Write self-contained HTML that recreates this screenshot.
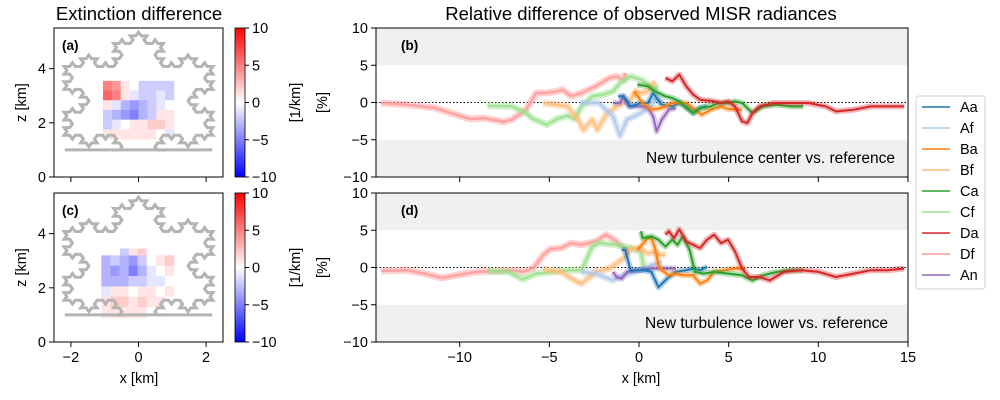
<!DOCTYPE html>
<html><head><meta charset="utf-8"><style>
body{margin:0;background:#fff}
svg{display:block;font-family:"Liberation Sans",sans-serif}
</style></head><body>
<svg id="fig" width="1000" height="400" viewBox="0 0 1000 400"></svg>
<script>
// ---------- data ----------
const seriesNames=["Aa","Af","Ba","Bf","Ca","Cf","Da","Df","An"];
const seriesColors=["#1f77b4","#aec7e8","#ff7f0e","#ffbb78","#2ca02c","#98df8a","#d62728","#ff9896","#9467bd"];
const yTicks=[10,5,0,-5,-10];
const xTicksRight=[-10,-5,0,5,10,15];
const xTicksLeft=[-2,0,2];
const zTicksLeft=[0,2,4];
const cbTicks=[10,5,0,-5,-10];
// panel (b): [km, %] pairs
const bDf=[[-14.38,-0.07],[-12.92,-0.3],[-11.36,-0.74],[-10.39,-1.5],[-9.42,-2.2],[-8.64,-2.1],[-7.57,-2.6],[-7.09,-2.3],[-6.31,-0.96],[-5.73,1.28],[-5.14,1.28],[-4.56,1.5],[-4.27,1.73],[-3.78,0.83],[-3.2,1.28],[-2.42,2.17],[-1.64,3.3],[-1.25,3.5],[-0.86,3.07],[-0.77,3.97]];
const bCf=[[-8.45,-0.43],[-7.09,-0.52],[-6.31,-1.4],[-5.92,-2.2],[-5.14,-2.98],[-4.56,-2.2],[-3.98,-1.77],[-3.59,-2.2],[-3.2,-0.52],[-2.61,0.83],[-2.03,1.05],[-1.45,1.5],[-1.06,2.6],[-0.47,3.5],[0.1,3.07],[0.69,2.17],[1.08,1.95]];
const bBf=[[-5.34,-0.07],[-3.98,-0.52],[-3.39,-2.3],[-3.1,-3.66],[-2.61,-2.3],[-2.32,-3.66],[-1.84,-1.64],[-1.25,-0.52],[-0.47,0.38],[-0.18,1.5],[0.11,1.28],[0.5,1.5],[0.89,2.85]];
const bAf=[[-3.3,-0.07],[-2.23,-0.07],[-1.45,-1.86],[-1.06,-4.46],[-0.67,-2.3],[-0.09,-1.64],[0.69,-0.52],[0.98,0.6],[1.27,-0.07]];
const bAa=[[-1.16,0.83],[-0.87,0.83],[-0.47,-0.52],[0.11,-0.07],[0.5,-0.07],[0.79,1.28],[0.98,0.6],[1.27,-0.3],[1.86,-0.52],[2.25,-0.07],[2.64,-0.52],[3.03,-1.41],[3.41,-0.74],[3.8,-0.52]];
const bAn=[[-1.45,-0.07],[-1.06,-0.07],[-0.87,0.83],[-0.57,-0.52],[0.11,-0.52],[0.5,-0.74],[0.79,-1.86],[0.98,-3.88],[1.27,-2.3],[1.66,-0.96],[2.05,-0.74]];
const bBa=[[-0.28,1.5],[0.2,-0.07],[0.69,-0.96],[1.27,-0.74],[1.86,-0.07],[2.64,-0.07],[3.12,-0.96],[3.51,-1.64],[4.0,-0.96],[4.58,-0.52],[4.97,-0.87],[5.75,-0.96]];
const bCa=[[-0.09,2.4],[0.5,2.17],[0.89,1.5],[1.47,0.83],[1.86,0.6],[2.25,0.16],[2.64,-0.74],[3.03,-1.41],[3.41,-0.74],[4.0,-0.52],[4.39,-0.07],[4.97,-0.07],[5.36,0.16],[5.75,-0.07],[6.33,-1.41],[6.91,-0.52],[7.69,-0.3],[8.47,-0.52],[9.15,-0.52]];
const bDa=[[1.47,3.3],[1.86,2.85],[2.25,3.74],[2.64,2.17],[3.03,1.05],[3.41,0.38],[4.19,0.16],[4.58,-0.07],[4.97,0.16],[5.36,-0.52],[5.75,-2.54],[6.04,-2.76],[6.33,-1.41],[6.72,-0.52],[7.5,-0.07],[8.47,-0.07],[9.44,-0.07],[10.41,-0.52],[10.99,-1.19],[11.97,-0.96],[12.94,-0.52],[13.91,-0.52],[14.79,-0.52]];
// panel (d)
const dDf=[[-14.38,-0.45],[-12.92,-0.36],[-11.95,-0.82],[-10.98,-1.41],[-10.0,-0.95],[-9.03,-0.59],[-8.06,-0.5],[-7.09,-0.36],[-6.5,-0.59],[-5.92,-0.14],[-5.34,1.68],[-4.95,2.5],[-4.36,2.6],[-3.78,3.27],[-3.2,3.05],[-2.42,3.5],[-1.84,4.4],[-1.25,3.5],[-0.87,2.6],[-0.47,2.1]];
const dCf=[[-8.45,-0.45],[-7.28,-0.59],[-6.5,-1.59],[-5.73,-0.82],[-4.75,-0.59],[-3.98,-0.36],[-3.2,-0.36],[-2.61,2.8],[-2.23,3.27],[-1.25,3.05],[-0.47,2.6],[0.11,2.1],[0.26,0.0]];
const dBf=[[-5.34,-0.23],[-4.36,-0.59],[-3.59,-1.73],[-3.2,-2.18],[-2.42,-0.59],[-1.64,-0.14],[-0.87,1.23],[-0.38,2.6],[0.11,2.4],[0.5,1.9],[0.89,2.1],[1.08,1.7],[1.47,1.7]];
const dAf=[[-3.2,-0.59],[-2.42,-0.82],[-1.45,-1.73],[-0.87,-1.05],[-0.28,-0.59],[0.3,-0.14],[0.69,0.32],[1.27,0.77]];
const dAa=[[-0.96,2.36],[-0.77,2.36],[-0.47,-0.36],[0.3,-0.36],[0.69,-0.59],[1.08,-2.64],[1.27,-2.2],[1.56,-1.5],[2.05,-0.59],[2.64,-0.36],[3.03,-0.14],[3.41,-0.36],[3.8,0.09]];
const dAn=[[-1.45,-0.59],[-1.25,-1.27],[-0.96,-1.5],[-0.67,-0.59],[-0.09,-0.36],[0.69,-0.14],[1.66,-0.14],[2.05,-0.14]];
const dBa=[[-0.09,2.36],[0.5,3.95],[0.69,3.95],[0.89,2.6],[1.08,0.32],[1.27,-0.36],[1.66,-1.05],[2.05,-0.82],[2.44,-1.05],[3.03,-1.05],[3.41,-2.18],[3.8,-1.73],[4.19,-0.59],[4.77,-0.36],[5.36,-0.14],[5.94,-0.14]];
const dCa=[[0.11,4.86],[0.2,3.95],[0.69,4.18],[1.08,3.73],[1.47,2.8],[1.86,3.73],[2.15,3.05],[2.44,4.18],[2.83,2.36],[3.12,-0.59],[3.61,-0.82],[4.19,-0.59],[4.97,-0.82],[5.75,-1.05],[6.33,-1.73],[6.91,-1.05],[7.69,-0.59],[8.47,-0.36],[9.15,-0.36]];
const dDa=[[1.47,4.4],[1.66,4.86],[1.95,3.95],[2.25,5.1],[2.64,3.5],[3.03,3.05],[3.41,2.6],[3.8,3.73],[4.19,4.4],[4.58,3.27],[4.97,3.73],[5.36,2.14],[5.75,-0.14],[6.14,-1.27],[6.72,-1.27],[7.3,-1.73],[8.08,-0.59],[9.05,-0.36],[10.02,-0.59],[10.99,-1.27],[11.97,-0.82],[12.94,-0.36],[13.91,-0.36],[14.79,-0.14]];
// heatmaps (rows top->bottom, values in 1/km)
const heatA=[[5,4,1,0,-2,-2,-2,-2],[6,5,1,-1,-2,-2,-1,-2],[1,-1,-3,-4,-3,-2,-1,0],[-2,-3,-4,-5,-3,-2,1,1],[-2,-1,0,1,1,2,2,1],[1,1,1,1,1,1,0,-1]];
const heatC=[[-3,-2,-3,-4,-2,0,1,2],[-3,-4,-3,-5,-3,-1,0,1],[-3,-3,-3,-2,-2,-1,-1,0],[-1,1,1,0,1,1,0,1],[1,2,2,1,2,1,1,0],[1,1,1,1,1,0,0,0]];
const heatCtop=[-2,1,2,0];

// ---------- helpers ----------
const NS="http://www.w3.org/2000/svg";
const svg=document.getElementById('fig');
function el(tag,attrs,parent,text){const e=document.createElementNS(NS,tag);for(const k in attrs)e.setAttribute(k,attrs[k]);if(text!==undefined)e.textContent=text;(parent||svg).appendChild(e);return e;}
function bwr(v){let t=(Math.max(-10,Math.min(10,v))+10)/20;let r,g,b;if(t<0.5){r=g=Math.round(2*t*255);b=255;}else{r=255;g=b=Math.round(2*(1-t)*255);}return `rgb(${r},${g},${b})`;}
const FS=14.5;
function fmt(t){return t<0?'\u2212'+(-t):String(t);}

// ---------- left panels ----------
const LX0=54,LX1=223; const lxs=x=>LX0+(x+2.5)/5*(LX1-LX0);
function kochPts(){
  const c=[0,2.81],R=2.54;
  const ang=[150,30,270].map(a=>a*Math.PI/180);
  let pts=ang.map(a=>[c[0]+R*Math.cos(a),c[1]+R*Math.sin(a)]);
  pts.push(pts[0]);
  for(let l=0;l<3;l++){
    const np=[];
    for(let i=0;i<pts.length-1;i++){
      const p=pts[i],q=pts[i+1];const d=[(q[0]-p[0])/3,(q[1]-p[1])/3];
      const a=[p[0]+d[0],p[1]+d[1]],b=[p[0]+2*d[0],p[1]+2*d[1]];
      const co=Math.cos(Math.PI/3),si=Math.sin(Math.PI/3);
      const m=[a[0]+d[0]*co-d[1]*si,a[1]+d[0]*si+d[1]*co];
      np.push(p,a,m,b);
    }
    np.push(pts[pts.length-1]);pts=np;
  }
  return pts;
}
const koch=kochPts();
function leftPanel(top,label,heat,heatRect,topExt,idx){
  const Y0=top,Y1=top+149; const zs=z=>Y1-z/5.5*(Y1-Y0);
  const g=el('g',{},svg);
  
  
  el('rect',{x:LX0,y:Y0,width:LX1-LX0,height:Y1-Y0,fill:'#fff'},g);
  const [x0,x1,z0,z1]=heatRect; const nr=heat.length,nc=heat[0].length;
  heat.forEach((row,r)=>row.forEach((v,c)=>{
    const xa=x0+(x1-x0)*c/nc, xb=x0+(x1-x0)*(c+1)/nc, za=z1-(z1-z0)*r/nr, zb=z1-(z1-z0)*(r+1)/nr;
    const cell=el('rect',{x:lxs(xa),y:zs(za),width:lxs(xb)-lxs(xa)+0.3,height:zs(zb)-zs(za)+0.3,fill:bwr(v)},g);
    
    
  }));
  if(topExt){const [ex0,ex1,ez0,ez1,vals]=topExt;vals.forEach((v,c)=>{const xa=ex0+(ex1-ex0)*c/vals.length,xb=ex0+(ex1-ex0)*(c+1)/vals.length;
    const cell=el('rect',{x:lxs(xa),y:zs(ez1),width:lxs(xb)-lxs(xa)+0.3,height:zs(ez0)-zs(ez1),fill:bwr(v)},g);
    
    });}
  const cid='clip'+idx;
  const cp=el('clipPath',{id:cid},g);el('rect',{x:LX0,y:Y0,width:LX1-LX0,height:zs(1)-Y0+1.5},cp);
  const d=koch.map((p,i)=>(i?'L':'M')+lxs(p[0]).toFixed(1)+','+zs(p[1]).toFixed(1)).join('')+'Z';
  const kp=el('path',{d:d,fill:'none',stroke:'#b4b4b4','stroke-width':3,'clip-path':`url(#${cid})`},g);
  
  
  el('line',{x1:lxs(-2.18),x2:lxs(2.18),y1:zs(1),y2:zs(1),stroke:'#b4b4b4','stroke-width':3},g);
  el('rect',{x:LX0,y:Y0,width:LX1-LX0,height:Y1-Y0,fill:'none',stroke:'#000','stroke-width':1},g);
  xTicksLeft.forEach(t=>{el('line',{x1:lxs(t),x2:lxs(t),y1:Y1,y2:Y1+5,stroke:'#000'},g);
    if(idx===1){const tl=el('text',{x:lxs(t),y:Y1+20,'text-anchor':'middle','font-size':FS},g,fmt(t));}});
  zTicksLeft.forEach(t=>{el('line',{x1:LX0-5,x2:LX0,y1:zs(t),y2:zs(t),stroke:'#000'},g);
    const tl=el('text',{x:LX0-8,y:zs(t)+5,'text-anchor':'end','font-size':FS},g,fmt(t));});
  const pl=el('text',{x:62,y:Y0+22,'font-size':13.5,'font-weight':'bold'},g,'('+label+')');
  const yl=el('text',{transform:`translate(26,${(Y0+Y1)/2}) rotate(-90)`,'text-anchor':'middle','font-size':FS},g,'z [km]');
  const defs=el('defs',{},g);const lg=el('linearGradient',{id:'cbg'+idx,x1:0,y1:0,x2:0,y2:1},defs);
  el('stop',{offset:'0','stop-color':'#ff0000'},lg);el('stop',{offset:'0.5','stop-color':'#ffffff'},lg);el('stop',{offset:'1','stop-color':'#0000ff'},lg);
  const cb=el('rect',{x:235,y:Y0,width:10,height:Y1-Y0,fill:`url(#cbg${idx})`,stroke:'#000','stroke-width':0.8},g);
  
  cbTicks.forEach(t=>{const y=Y0+(10-t)/20*(Y1-Y0);el('line',{x1:245,x2:249,y1:y,y2:y,stroke:'#000'},g);
    const tl=el('text',{x:252,y:y+5,'font-size':FS},g,fmt(t));});
  const cl=el('text',{transform:`translate(300,${(Y0+Y1)/2}) rotate(-90)`,'text-anchor':'middle','font-size':FS},g,'[1/km]');
}
leftPanel(28,'a',heatA,[-1.05,1.05,1.4,3.55],null,0);
leftPanel(193,'c',heatC,[-1.1,1.05,0.9,3.2],[-0.55,0.5,3.2,3.45,heatCtop],1);
const lt=el('text',{x:139,y:20,'text-anchor':'middle','font-size':18.5},svg,'Extinction difference');
const lx=el('text',{x:139,y:383,'text-anchor':'middle','font-size':FS},svg,'x [km]');

// ---------- right panels ----------
const RX0=376,RX1=908; const rxs=x=>639+17.93*x;
function rightPanel(top,label,series,note,idx){
  const Y0=top,Y1=top+149; const ys=v=>Y0+(10-v)/20*(Y1-Y0);
  const g=el('g',{},svg);
  
  
  const cid='rclip'+idx;const cp=el('clipPath',{id:cid},g);el('rect',{x:RX0,y:Y0,width:RX1-RX0,height:Y1-Y0},cp);
  el('rect',{x:RX0,y:ys(10),width:RX1-RX0,height:ys(5)-ys(10),fill:'#f0f0f0'},g);
  el('rect',{x:RX0,y:ys(-5),width:RX1-RX0,height:ys(-10)-ys(-5),fill:'#f0f0f0'},g);
  el('line',{x1:RX0,x2:RX1,y1:ys(0),y2:ys(0),stroke:'#000','stroke-width':1,'stroke-dasharray':'1.5,2'},g);
  const order=[7,5,3,1,8,0,2,4,6];
  const sg=el('g',{'clip-path':`url(#${cid})`},g);
  order.forEach(i=>{
    const pts=series[i].map(p=>rxs(p[0]).toFixed(1)+','+ys(p[1]).toFixed(1)).join(' ');
    const light=(i%2===1&&i!==8);
    el('polyline',{points:pts,fill:'none',stroke:seriesColors[i],'stroke-width':light?7:6,'stroke-opacity':light?0.45:0.35,'stroke-linejoin':'round'},sg);
    const ln=el('polyline',{points:pts,fill:'none',stroke:seriesColors[i],'stroke-width':light?2.5:2,'stroke-opacity':light?0.8:1,'stroke-linejoin':'round'},sg);
    
    
  });
  el('rect',{x:RX0,y:Y0,width:RX1-RX0,height:Y1-Y0,fill:'none',stroke:'#000','stroke-width':1},g);
  yTicks.forEach(t=>{el('line',{x1:RX0-5,x2:RX0,y1:ys(t),y2:ys(t),stroke:'#000'},g);
    const tl=el('text',{x:RX0-8,y:ys(t)+5,'text-anchor':'end','font-size':FS},g,fmt(t));});
  xTicksRight.forEach(t=>{el('line',{x1:rxs(t),x2:rxs(t),y1:Y1,y2:Y1+5,stroke:'#000'},g);
    if(idx===1){const tl=el('text',{x:rxs(t),y:Y1+20,'text-anchor':'middle','font-size':FS},g,fmt(t));}});
  const pl=el('text',{x:401,y:Y0+22,'font-size':13.5,'font-weight':'bold'},g,'('+label+')');
  const nt=el('text',{x:idx?888:895,y:Y0+135,'text-anchor':'end','font-size':15.5},g,note);
  const yl=el('text',{transform:`translate(327,${(Y0+Y1)/2}) rotate(-90)`,'text-anchor':'middle','font-size':FS},g,'[%]');
}
rightPanel(28,'b',[bAa,bAf,bBa,bBf,bCa,bCf,bDa,bDf,bAn],'New turbulence center vs. reference',0);
rightPanel(193,'d',[dAa,dAf,dBa,dBf,dCa,dCf,dDa,dDf,dAn],'New turbulence lower vs. reference',1);
const rt=el('text',{x:641,y:20,'text-anchor':'middle','font-size':18.5},svg,'Relative difference of observed MISR radiances');
const rx=el('text',{x:641,y:383,'text-anchor':'middle','font-size':FS},svg,'x [km]');

// ---------- legend ----------
const lgG=el('g',{},svg);


el('rect',{x:916,y:96,width:69,height:193,rx:3,fill:'#fff',stroke:'#d0d0d0'},lgG);
seriesNames.forEach((n,i)=>{
  const y=107+i*21;
  const e=el('g',{},lgG);
  
  
  el('line',{x1:922,x2:950,y1:y,y2:y,stroke:seriesColors[i],'stroke-width':1.5},e);
  el('text',{x:960,y:y+5,'font-size':FS},e,n);
});
</script>
</body></html>
